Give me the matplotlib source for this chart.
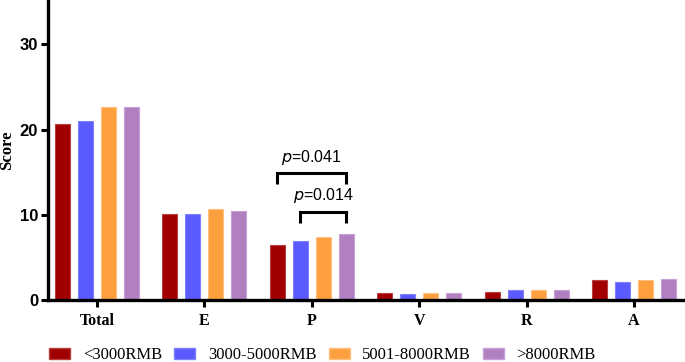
import numpy as np
import matplotlib
matplotlib.use("Agg")
import matplotlib.pyplot as plt
from matplotlib.patches import Patch

categories = ["Total", "E", "P", "V", "R", "A"]
groups = ["<3000RMB", "3000-5000RMB", "5001-8000RMB", ">8000RMB"]
v_lt3000 = [20.6, 10.05, 6.44, 0.86, 0.98, 2.31]
v_3000_5000 = [21.0, 10.05, 6.90, 0.75, 1.21, 2.11]
v_5001_8000 = [22.6, 10.70, 7.39, 0.86, 1.21, 2.35]
v_gt8000 = [22.7, 10.45, 7.72, 0.79, 1.21, 2.43]
series = [v_lt3000, v_3000_5000, v_5001_8000, v_gt8000]
colors = ["#A00000", "#5A5AFF", "#FFA040", "#B080C0"]
edges = ["#B84040", "#8080FF", "#FFC080", "#C8A0D8"]
# significance annotations: (category, group_i, group_j, label)
sig = [("P", 0, 3, "0.041"), ("P", 1, 3, "0.014")]
sig_y = [14.85, 10.35]

fig = plt.figure(figsize=(6.85, 3.62), dpi=100)
ax = fig.add_axes([0.070, 0.171, 0.930, 0.829])

x = np.arange(len(categories))
step = 0.214
width = 0.14
for i, (vals, c, ec) in enumerate(zip(series, colors, edges)):
    ax.bar(x + (i - 1.5) * step, vals, width=width, color=c, edgecolor=ec,
           linewidth=0.8, zorder=2)

ax.set_xlim(-0.456, 5.475)
ax.set_ylim(0, 35.2)
ax.set_yticks([0, 10, 20, 30])
ax.set_xticks(x)
ax.set_xticklabels(categories, fontfamily="Liberation Serif", fontweight="bold", fontsize=11.5)
for lab in ax.get_yticklabels():
    lab.set_fontfamily("Liberation Sans")
    lab.set_fontweight("bold")
    lab.set_fontsize(12)
ax.set_ylabel("Score", fontfamily="Liberation Serif", fontweight="bold", fontsize=12)
ax.yaxis.set_label_coords(-0.051, 0.5)

for s in ["top", "right"]:
    ax.spines[s].set_visible(False)
for s in ["left", "bottom"]:
    ax.spines[s].set_linewidth(2.4)
ax.tick_params(axis="both", width=2.2, length=5, color="black")
ax.tick_params(axis="x", pad=4)
ax.tick_params(axis="y", pad=2)

for (cat, gi, gj, lab), yb in zip(sig, sig_y):
    ci = categories.index(cat)
    x1 = ci + (gi - 1.5) * step
    x2 = ci + (gj - 1.5) * step
    drop = 1.25
    ax.plot([x1, x1, x2, x2], [yb - drop, yb, yb, yb - drop], color="black",
            lw=2.2, solid_joinstyle="miter", solid_capstyle="butt", zorder=3)
    ax.text((x1 + x2) / 2, yb + 0.75, r"$\it{p}$=" + lab, ha="center", va="bottom",
            fontfamily="Liberation Sans", fontsize=11.5)

handles = [Patch(facecolor=c, edgecolor=ec, label=g) for c, ec, g in zip(colors, edges, groups)]
fig.legend(handles=handles, loc="center", bbox_to_anchor=(0.471, 0.018), ncol=4, frameon=False,
           prop={"family": "Liberation Serif", "size": 12}, handlelength=1.25, handleheight=0.65,
           columnspacing=0.75, handletextpad=0.75, borderaxespad=0)

fig.savefig("out.png", dpi=100)
